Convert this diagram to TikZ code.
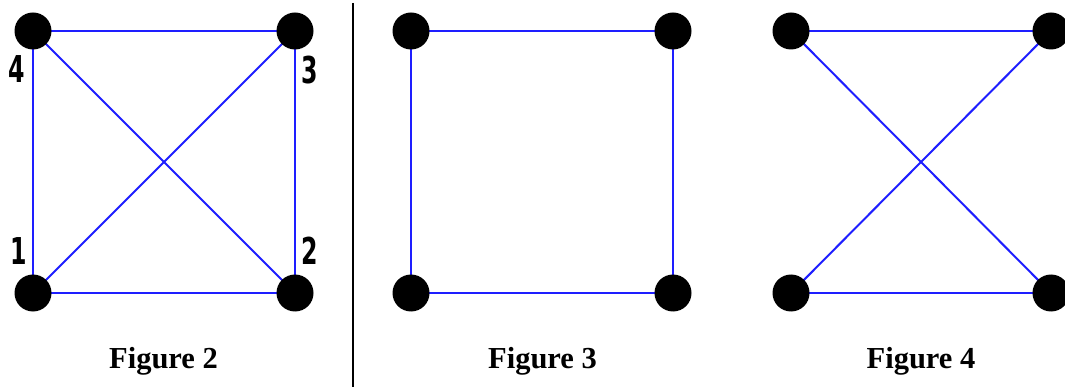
\documentclass[tikz,border=0pt]{standalone}
\usepackage{fontspec}
\setmainfont{Liberation Serif}
\newfontfamily\numfont{DejaVu Sans}
\definecolor{edgeblue}{RGB}{30,30,255}
\begin{document}
\begin{tikzpicture}[x=1pt,y=-1pt,
  vtx/.style={circle,fill=black,inner sep=0pt,minimum size=37pt},
  edge/.style={draw=edgeblue,line width=2pt},
  lbl/.style={font=\numfont\bfseries\fontsize{37}{37}\selectfont,xscale=0.64,inner sep=0pt},
  figcap/.style={font=\bfseries\fontsize{30.5}{30.5}\selectfont,anchor=base,inner sep=0pt}]
\useasboundingbox (0,0) rectangle (1065,387);
% Figure 2
\coordinate (a4) at (33,31);
\coordinate (a3) at (295,31);
\coordinate (a1) at (33,293);
\coordinate (a2) at (295,293);
\draw[edge] (a1) -- (a2);
\draw[edge] (a2) -- (a3);
\draw[edge] (a3) -- (a4);
\draw[edge] (a4) -- (a1);
\draw[edge] (a1) -- (a3);
\draw[edge] (a4) -- (a2);
\node[vtx] (n4) at (a4) {};
\node[vtx] (n3) at (a3) {};
\node[vtx] (n1) at (a1) {};
\node[vtx] (n2) at (a2) {};
\node[lbl] (l4) at (16.5,69) {4};
\node[lbl] (l3) at (310,70) {3};
\node[lbl] (l1) at (19,251.5) {1};
\node[lbl] (l2) at (310,250.5) {2};
\node[figcap] (c2) at (163.5,368) {Figure 2};
% divider
\coordinate (d1) at (353,3);
\coordinate (d2) at (353,387);
\draw[line width=2pt] (d1) -- (d2);
% Figure 3
\coordinate (b4) at (411,31);
\coordinate (b3) at (673,31);
\coordinate (b1) at (411,293);
\coordinate (b2) at (673,293);
\draw[edge] (b1) -- (b2);
\draw[edge] (b2) -- (b3);
\draw[edge] (b3) -- (b4);
\draw[edge] (b4) -- (b1);
\node[vtx] (m4) at (b4) {};
\node[vtx] (m3) at (b3) {};
\node[vtx] (m1) at (b1) {};
\node[vtx] (m2) at (b2) {};
\node[figcap] (c3) at (542.5,368) {Figure 3};
% Figure 4
\coordinate (e4) at (791,31);
\coordinate (e3) at (1051,31);
\coordinate (e1) at (791,293);
\coordinate (e2) at (1051,293);
\draw[edge] (e4) -- (e3);
\draw[edge] (e3) -- (e1);
\draw[edge] (e1) -- (e2);
\draw[edge] (e2) -- (e4);
\node[vtx] (k4) at (e4) {};
\node[vtx] (k3) at (e3) {};
\node[vtx] (k1) at (e1) {};
\node[vtx] (k2) at (e2) {};
\node[figcap] (c4) at (921,368) {Figure 4};
\end{tikzpicture}
\end{document}
